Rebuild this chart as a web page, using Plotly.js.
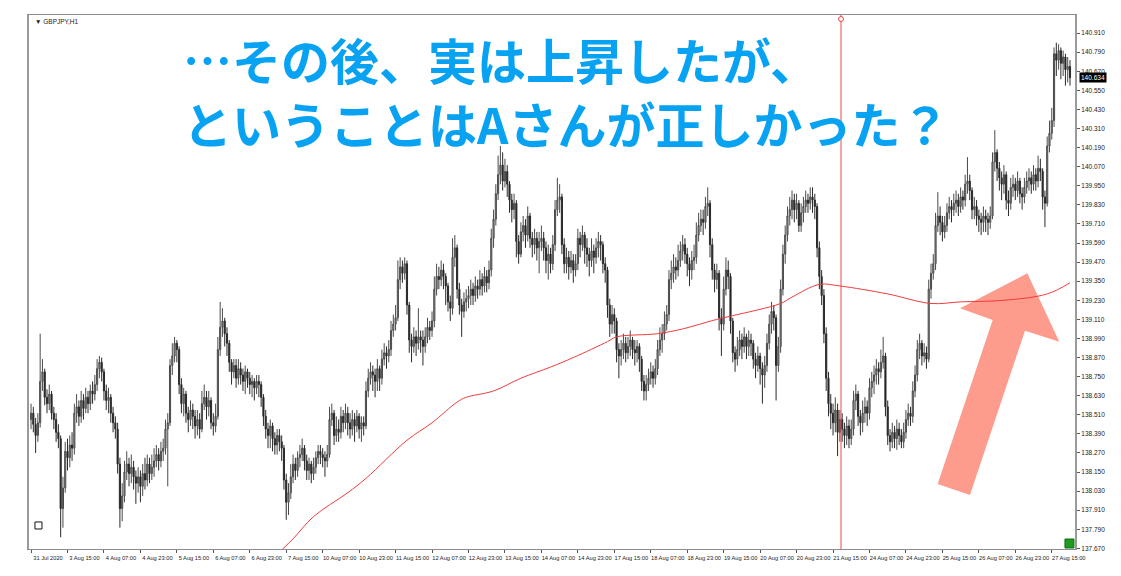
<!DOCTYPE html>
<html>
<head>
<meta charset="utf-8">
<script src="https://cdn.plot.ly/plotly-3.0.1.min.js"></script>
<style>
  html, body { margin: 0; padding: 0; background: #fff; }
  #chart { width: 1121px; height: 576px; }
</style>
</head>
<body>
<div id="chart"></div>
<script>
// GBPJPY H1, 31 Jul - 27 Aug 2020 (one bar per hour)
const symbolLabel = "▼ GBPJPY,H1";
const firstOpen = 138.48;

const closes = [
  138.52,138.45,138.38,138.46,138.72,138.78,138.62,138.58,138.64,138.52,138.48,138.40,138.36,137.92,138.05,138.28,
  138.24,138.32,138.30,138.52,138.56,138.50,138.60,138.55,138.62,138.58,138.66,138.64,138.70,138.80,138.84,138.78,
  138.66,138.60,138.62,138.52,138.46,138.42,138.20,137.92,138.00,138.15,138.20,138.14,138.18,138.12,138.08,138.12,
  138.06,138.14,138.10,138.20,138.14,138.18,138.22,138.26,138.22,138.28,138.30,138.42,138.46,138.82,138.88,138.96,
  138.92,138.70,138.58,138.64,138.52,138.48,138.54,138.50,138.44,138.48,138.42,138.58,138.62,138.56,138.60,138.46,
  138.44,138.50,138.92,139.06,139.10,139.02,138.96,138.84,138.78,138.82,138.74,138.80,138.76,138.72,138.78,138.74,
  138.70,138.72,138.68,138.72,138.70,138.62,138.50,138.42,138.38,138.44,138.36,138.32,138.38,138.34,138.30,138.10,
  137.96,138.02,138.12,138.20,138.16,138.24,138.26,138.30,138.22,138.16,138.20,138.14,138.18,138.24,138.28,138.26,
  138.24,138.22,138.26,138.48,138.52,138.38,138.42,138.40,138.50,138.46,138.52,138.46,138.42,138.48,138.44,138.50,
  138.42,138.46,138.44,138.66,138.74,138.78,138.76,138.72,138.80,138.74,138.86,138.90,138.88,138.92,139.04,139.08,
  139.12,139.36,139.44,139.40,139.46,139.20,138.98,138.94,139.00,138.96,139.00,138.98,138.94,139.00,139.06,139.04,
  139.10,139.30,139.38,139.36,139.42,139.38,139.32,139.22,139.18,139.50,139.56,139.30,139.20,139.16,139.22,139.24,
  139.26,139.30,139.26,139.32,139.30,139.36,139.32,139.38,139.34,139.42,139.62,139.74,139.90,140.02,140.08,139.98,
  140.04,139.96,139.86,139.80,139.84,139.60,139.52,139.66,139.70,139.64,139.76,139.62,139.58,139.62,139.56,139.60,
  139.62,139.56,139.48,139.52,139.46,139.58,139.80,139.86,139.88,139.58,139.46,139.50,139.44,139.48,139.42,139.46,
  139.62,139.58,139.64,139.56,139.52,139.48,139.54,139.50,139.56,139.60,139.58,139.46,139.42,139.20,139.08,139.14,
  139.10,138.92,138.88,138.92,138.96,138.90,138.94,138.98,138.92,138.90,138.94,138.86,138.72,138.66,138.70,138.74,
  138.78,138.74,138.80,138.92,138.98,139.02,139.08,139.14,139.36,139.40,139.44,139.42,139.48,139.54,139.58,139.52,
  139.46,139.42,139.48,139.50,139.64,139.70,139.74,139.72,139.82,139.84,139.58,139.42,139.36,139.40,139.12,139.08,
  139.30,139.42,139.38,139.10,138.90,138.86,138.92,138.98,138.94,139.00,138.94,138.98,138.96,138.86,138.82,138.88,
  138.80,138.76,138.82,138.96,139.08,139.16,139.12,138.82,138.94,139.30,139.52,139.64,139.76,139.80,139.86,139.80,
  139.84,139.70,139.78,139.82,139.86,139.84,139.88,139.86,139.82,139.56,139.38,139.26,139.02,138.74,138.58,138.52,
  138.46,138.54,138.40,138.48,138.42,138.38,138.44,138.36,138.42,138.60,138.64,138.50,138.46,138.52,138.56,138.52,
  138.68,138.72,138.76,138.80,138.78,138.84,138.88,138.56,138.38,138.34,138.40,138.36,138.42,138.38,138.34,138.40,
  138.48,138.52,138.50,138.66,138.76,138.92,138.96,138.88,138.90,138.86,139.30,139.40,139.46,139.70,139.76,139.72,
  139.66,139.70,139.78,139.82,139.80,139.84,139.86,139.82,139.88,139.86,139.96,139.98,139.92,139.80,139.82,139.76,
  139.74,139.72,139.76,139.74,139.72,139.76,140.10,140.16,140.06,140.00,139.96,140.02,139.86,139.84,139.94,139.96,
  139.92,139.98,139.90,139.88,139.94,139.98,140.00,139.96,140.02,139.98,140.06,140.04,139.88,139.84,140.20,140.28,
  140.36,140.78,140.74,140.80,140.72,140.76,140.68,140.70,140.63
];

const highs = [
  138.58,138.56,138.49,138.52,139.02,138.86,138.80,138.67,138.70,138.66,138.56,138.52,138.45,138.38,138.12,138.34,
  138.36,138.38,138.40,138.58,138.64,138.60,138.66,138.64,138.68,138.66,138.70,138.72,138.76,138.86,138.88,138.87,
  138.80,138.70,138.68,138.64,138.56,138.50,138.46,138.24,138.08,138.22,138.28,138.24,138.26,138.22,138.16,138.18,
  138.16,138.20,138.24,138.26,138.24,138.26,138.30,138.32,138.30,138.34,138.36,138.48,138.52,138.86,138.96,139.00,
  138.98,138.94,138.74,138.68,138.66,138.56,138.60,138.58,138.54,138.54,138.52,138.66,138.70,138.66,138.66,138.62,
  138.52,138.58,139.00,139.22,139.18,139.12,139.06,138.98,138.86,138.86,138.86,138.86,138.84,138.80,138.82,138.80,
  138.78,138.76,138.74,138.76,138.76,138.72,138.64,138.54,138.46,138.48,138.46,138.40,138.42,138.42,138.38,138.32,
  138.14,138.08,138.20,138.26,138.24,138.28,138.32,138.36,138.32,138.26,138.24,138.22,138.24,138.28,138.32,138.32,
  138.30,138.28,138.32,138.56,138.58,138.54,138.50,138.48,138.56,138.54,138.58,138.56,138.52,138.54,138.52,138.54,
  138.52,138.50,138.50,138.72,138.80,138.84,138.82,138.80,138.86,138.82,138.92,138.96,138.94,138.98,139.10,139.14,
  139.20,139.48,139.50,139.48,139.50,139.48,139.22,139.02,139.06,139.04,139.18,139.04,139.04,139.06,139.12,139.10,
  139.16,139.38,139.46,139.44,139.48,139.46,139.40,139.34,139.26,139.62,139.64,139.58,139.34,139.24,139.28,139.30,
  139.32,139.36,139.34,139.38,139.36,139.42,139.40,139.44,139.42,139.48,139.68,139.80,139.96,140.14,140.20,140.16,
  140.12,140.08,139.98,139.90,139.90,139.86,139.64,139.72,139.76,139.74,139.82,139.78,139.66,139.68,139.66,139.66,
  139.70,139.66,139.60,139.58,139.56,139.64,139.86,140.00,139.96,139.90,139.62,139.56,139.54,139.54,139.52,139.52,
  139.68,139.66,139.70,139.66,139.62,139.56,139.62,139.58,139.62,139.66,139.64,139.60,139.50,139.44,139.24,139.20,
  139.18,139.12,138.96,138.98,139.02,139.00,139.00,139.04,139.00,138.98,138.98,138.96,138.88,138.76,138.76,138.80,
  138.84,138.82,138.86,138.98,139.06,139.08,139.16,139.20,139.42,139.48,139.52,139.50,139.58,139.60,139.64,139.62,
  139.56,139.50,139.54,139.58,139.72,139.78,139.80,139.80,139.88,139.94,139.86,139.62,139.46,139.46,139.42,139.18,
  139.38,139.50,139.48,139.40,139.12,138.94,139.00,139.04,139.02,139.06,139.02,139.04,139.02,138.98,138.90,138.94,
  138.90,138.84,138.88,139.02,139.14,139.22,139.20,139.14,139.00,139.36,139.58,139.70,139.82,139.88,139.92,139.90,
  139.90,139.86,139.84,139.88,139.92,139.90,139.94,139.94,139.90,139.84,139.60,139.42,139.30,139.06,138.78,138.64,
  138.58,138.62,138.58,138.54,138.52,138.46,138.50,138.48,138.48,138.66,138.70,138.66,138.54,138.60,138.62,138.60,
  138.74,138.78,138.82,138.86,138.84,138.92,139.00,138.90,138.60,138.42,138.46,138.44,138.48,138.46,138.42,138.46,
  138.54,138.58,138.56,138.72,138.82,138.98,139.02,138.98,138.96,138.94,139.36,139.46,139.52,139.78,139.91,139.82,
  139.76,139.76,139.84,139.88,139.86,139.90,139.92,139.90,139.94,139.92,140.02,140.13,140.02,139.94,139.88,139.86,
  139.80,139.78,139.82,139.80,139.78,139.82,140.16,140.30,140.18,140.10,140.04,140.08,140.04,139.92,140.00,140.02,
  140.00,140.04,140.00,139.94,140.00,140.04,140.06,140.04,140.08,140.06,140.14,140.12,140.06,139.92,140.26,140.36,
  140.44,140.82,140.85,140.84,140.82,140.80,140.78,140.76,140.74
];

const lows = [
  138.42,138.40,138.27,138.34,138.43,138.66,138.57,138.52,138.54,138.48,138.42,138.34,138.30,137.74,137.80,138.02,
  138.16,138.18,138.22,138.26,138.46,138.44,138.46,138.48,138.52,138.52,138.54,138.58,138.60,138.66,138.74,138.72,
  138.60,138.54,138.52,138.46,138.40,138.36,138.14,137.80,137.84,137.96,138.10,138.06,138.08,138.04,137.95,138.02,
  137.96,138.00,138.04,138.06,138.08,138.10,138.12,138.18,138.16,138.18,138.22,138.26,138.06,138.44,138.76,138.84,
  138.84,138.64,138.52,138.50,138.46,138.40,138.44,138.42,138.36,138.38,138.36,138.40,138.54,138.48,138.50,138.42,
  138.38,138.40,138.48,138.88,139.00,138.94,138.88,138.78,138.70,138.74,138.68,138.70,138.70,138.66,138.64,138.68,
  138.64,138.62,138.60,138.64,138.62,138.56,138.44,138.36,138.30,138.30,138.28,138.26,138.26,138.28,138.22,138.04,
  137.85,137.88,137.98,138.08,138.10,138.12,138.18,138.22,138.16,138.10,138.10,138.08,138.10,138.14,138.20,138.20,
  138.18,138.12,138.18,138.24,138.44,138.32,138.34,138.34,138.36,138.40,138.42,138.38,138.36,138.38,138.34,138.40,
  138.36,138.34,138.38,138.42,138.62,138.70,138.66,138.62,138.66,138.66,138.70,138.82,138.80,138.84,138.88,139.00,
  139.04,139.10,139.30,139.34,139.36,139.14,138.90,138.84,138.90,138.88,138.92,138.90,138.82,138.90,138.96,138.98,
  139.00,139.06,139.26,139.30,139.32,139.30,139.20,139.16,139.10,139.14,139.44,139.24,139.14,139.00,139.12,139.16,
  139.18,139.20,139.20,139.22,139.24,139.26,139.26,139.28,139.28,139.30,139.38,139.56,139.70,139.86,139.96,139.92,
  139.94,139.88,139.78,139.72,139.74,139.50,139.46,139.50,139.60,139.56,139.60,139.56,139.50,139.52,139.48,139.40,
  139.54,139.48,139.40,139.36,139.40,139.42,139.54,139.76,139.78,139.52,139.40,139.40,139.36,139.40,139.34,139.38,
  139.42,139.50,139.54,139.46,139.44,139.38,139.44,139.40,139.46,139.50,139.48,139.40,139.34,139.12,139.00,139.02,
  139.02,138.84,138.74,138.82,138.86,138.84,138.86,138.88,138.86,138.82,138.84,138.78,138.66,138.60,138.60,138.66,
  138.70,138.68,138.70,138.76,138.88,138.90,138.98,139.04,139.10,139.30,139.34,139.36,139.38,139.44,139.48,139.46,
  139.38,139.32,139.36,139.42,139.46,139.60,139.66,139.64,139.68,139.76,139.50,139.36,139.28,139.30,139.04,138.88,
  139.04,139.26,139.30,139.02,138.84,138.78,138.82,138.88,138.86,138.90,138.86,138.88,138.88,138.80,138.74,138.78,
  138.70,138.58,138.68,138.78,138.92,139.02,139.04,138.60,138.78,138.90,139.26,139.46,139.60,139.70,139.74,139.72,
  139.74,139.66,139.66,139.72,139.78,139.78,139.80,139.78,139.74,139.50,139.30,139.20,138.96,138.66,138.50,138.42,
  138.38,138.40,138.25,138.34,138.34,138.30,138.32,138.30,138.32,138.38,138.54,138.44,138.38,138.40,138.46,138.44,
  138.48,138.62,138.64,138.70,138.70,138.74,138.80,138.50,138.32,138.28,138.30,138.30,138.29,138.32,138.30,138.30,
  138.36,138.44,138.44,138.46,138.62,138.72,138.86,138.82,138.84,138.80,138.84,139.24,139.36,139.42,139.66,139.64,
  139.60,139.62,139.66,139.74,139.72,139.76,139.78,139.76,139.78,139.80,139.82,139.90,139.86,139.74,139.74,139.70,
  139.66,139.64,139.66,139.66,139.64,139.68,139.74,140.04,139.98,139.92,139.86,139.90,139.80,139.76,139.80,139.88,
  139.86,139.88,139.84,139.80,139.84,139.90,139.92,139.90,139.92,139.92,139.94,139.98,139.80,139.69,139.82,140.16,
  140.24,140.32,140.64,140.68,140.62,140.64,140.58,140.60,140.58
];

// red moving average, read at a few bars
const maBars = [110,115,124,139,147,165,176,187,191,203,215,228,238,253,257,275,286,301,319,329,334,346,355,376,395,408,427,446,456];
const maValues = [137.66,137.73,137.87,138.02,138.11,138.35,138.46,138.59,138.62,138.66,138.74,138.81,138.87,138.97,139.00,139.02,139.05,139.11,139.17,139.21,139.25,139.33,139.32,139.27,139.21,139.22,139.23,139.27,139.34];

// one time label every 16 bars
const timeLabels = [
  "31 Jul 2020","3 Aug 15:00","4 Aug 07:00","4 Aug 23:00","5 Aug 15:00","6 Aug 07:00","6 Aug 23:00",
  "7 Aug 15:00","10 Aug 07:00","10 Aug 23:00","11 Aug 15:00","12 Aug 07:00","12 Aug 23:00","13 Aug 15:00",
  "14 Aug 07:00","14 Aug 23:00","17 Aug 15:00","18 Aug 07:00","18 Aug 23:00","19 Aug 15:00","20 Aug 07:00",
  "20 Aug 23:00","21 Aug 15:00","24 Aug 07:00","24 Aug 23:00","25 Aug 15:00","26 Aug 07:00","26 Aug 23:00",
  "27 Aug 15:00"
];
const labelStep = 16;
const markerBar = 355.5;   // the red vertical line
const lastPrice = 140.634;

const captionLines = ["…その後、実は上昇したが、", "ということはAさんが正しかった？"];

const bars = closes.map((c, i) => i);
const opens = [firstOpen, ...closes.slice(0, -1)];

const candles = {
  type: "candlestick",
  x: bars,
  open: opens,
  high: highs,
  low: lows,
  close: closes,
  whiskerwidth: 0,
  increasing: { line: { color: "#4a4a4a", width: 1 }, fillcolor: "#9a9a9a" },
  decreasing: { line: { color: "#2a2a2a", width: 1 }, fillcolor: "#1a1a1a" },
  hoverinfo: "skip",
  showlegend: false,
};

const maLine = {
  type: "scatter",
  mode: "lines",
  x: maBars,
  y: maValues,
  line: { color: "#f03c3c", width: 1, shape: "spline" },
  hoverinfo: "skip",
  showlegend: false,
};

const blue = "#08a2f2";
const capFont = { family: "Noto Sans CJK JP", size: 49, color: blue };
const tickFont = { family: "Liberation Sans", size: 6.5, color: "#222" };
const timeFont = { family: "Liberation Sans", size: 5.7, color: "#222" };

const layout = {
  width: 1121,
  height: 576,
  margin: { l: 29, r: 46, t: 15, b: 27 },
  paper_bgcolor: "#ffffff",
  plot_bgcolor: "#ffffff",
  font: { family: "Liberation Sans", size: 7, color: "#222" },
  xaxis: {
    type: "linear",
    range: [-0.9, 458.2],
    tickvals: timeLabels.map((t, k) => k * labelStep),
    ticktext: timeLabels,
    tickangle: 0,
    ticks: "outside",
    ticklen: 3,
    tickcolor: "#555",
    tickfont: timeFont,
    ticklabelshift: 17,
    showgrid: false,
    zeroline: false,
    showline: true,
    mirror: true,
    linecolor: "#8c8c8c",
    linewidth: 1,
    rangeslider: { visible: false },
    fixedrange: true,
  },
  yaxis: {
    side: "right",
    range: [137.666, 141.024],
    tick0: 137.67,
    dtick: 0.12,
    tickformat: ".3f",
    ticks: "outside",
    ticklen: 3,
    tickcolor: "#555",
    tickfont: tickFont,
    showgrid: false,
    zeroline: false,
    showline: true,
    mirror: true,
    linecolor: "#9a9a9a",
    linewidth: 2,
    fixedrange: true,
  },
  shapes: [
    // big salmon arrow
    {
      type: "path", xref: "paper", yref: "paper", layer: "below",
      path: "M 0.8687 0.1217 L 0.8996 0.1011 L 0.9522 0.4088 L 0.9850 0.3882 L 0.9544 0.5163 L 0.8901 0.4507 L 0.9213 0.4288 Z",
      fillcolor: "#fd9b8c", line: { width: 0 },
    },
    {
      type: "line", xref: "x", yref: "paper",
      x0: markerBar, x1: markerBar, y0: 0, y1: 1,
      line: { color: "#f04848", width: 1 },
    },
    {
      type: "circle", xref: "x", yref: "paper", xsizemode: "pixel", ysizemode: "pixel",
      xanchor: markerBar, yanchor: 0.9925, x0: -2.5, x1: 2.5, y0: -2.5, y1: 2.5,
      line: { color: "#f04848", width: 1 }, fillcolor: "#ffffff",
    },
    // small square bottom-left
    {
      type: "rect", xref: "paper", yref: "paper",
      x0: 0.0057, x1: 0.0124, y0: 0.0375, y1: 0.0506,
      line: { color: "#111", width: 1 }, fillcolor: "#ffffff",
    },
    // green box bottom-right
    {
      type: "rect", xref: "paper", yref: "paper",
      x0: 0.9904, x1: 0.9990, y0: 0.0019, y1: 0.0187,
      line: { color: "#0d6e0d", width: 1 }, fillcolor: "#1f9a1f",
    },
  ],
  annotations: [
    {
      xref: "paper", yref: "paper", x: 0.004, y: 0.987,
      xanchor: "left", yanchor: "middle", showarrow: false,
      text: symbolLabel, font: tickFont,
    },
    {
      xref: "paper", yref: "paper", x: 0.1453, y: 0.8585,
      xanchor: "left", yanchor: "middle", align: "left", showarrow: false,
      text: captionLines.map(s => "<b>" + s + "</b>").join("<br>"), font: capFont,
    },
    {
      xref: "paper", yref: "y", x: 1, y: lastPrice,
      xanchor: "left", yanchor: "middle", xshift: 4, showarrow: false,
      text: lastPrice.toFixed(3), bgcolor: "#000000", borderpad: 1,
      font: { family: "Liberation Sans", size: 6.5, color: "#ffffff" },
    },
  ],
};

Plotly.newPlot("chart", [maLine, candles], layout, { staticPlot: true, displayModeBar: false });
</script>
</body>
</html>
